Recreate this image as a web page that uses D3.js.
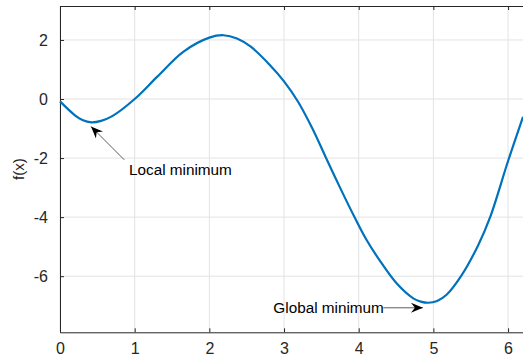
<!DOCTYPE html>
<html>
<head>
<meta charset="utf-8">
<script src="https://cdn.jsdelivr.net/npm/d3@7"></script>
<style>
  body { margin: 0; background: #fff; }
  svg { display: block; font-family: "Liberation Sans", Arial, Helvetica, sans-serif; }
</style>
</head>
<body>
<svg id="chart" width="523" height="360"></svg>
<script>
// values
const xs = [0, 0.2, 0.3, 0.42, 0.55, 0.7, 1.0, 1.3, 1.65, 2.0, 2.19, 2.37, 2.55, 2.8, 3.0, 3.19, 3.38, 3.56, 3.75, 3.94, 4.1, 4.29, 4.51, 4.73, 4.83, 4.93, 5.05, 5.18, 5.37, 5.6, 5.76, 6.0, 6.2];
const ys = [-0.08, -0.55, -0.71, -0.79, -0.74, -0.58, 0.0, 0.75, 1.6, 2.08, 2.16, 2.05, 1.78, 1.18, 0.6, -0.1, -1.0, -1.98, -3.0, -3.98, -4.75, -5.5, -6.25, -6.75, -6.86, -6.9, -6.84, -6.62, -6.0, -4.95, -4.0, -2.1, -0.6];
const xTicks = [0, 1, 2, 3, 4, 5, 6];
const yTicks = [-6, -4, -2, 0, 2];
const annotations = [
  { label: "Local minimum", text: [0.924, -2.40], tail: [0.861, -2.06], tip: [0.415, -0.93] },
  { label: "Global minimum", text: [2.857, -7.07], tail: [4.33, -7.07], tip: [4.86, -7.07] }
];

const svg = d3.select("#chart");
const margin = { top: 6, left: 60, bottom: 332.3, right: 523 };

const x = d3.scaleLinear().domain([0, 6.2]).range([margin.left, margin.right]);
const y = d3.scaleLinear().domain([-7.9, 3.15]).range([margin.bottom, margin.top]);

const axisColor = "#262626";

// grid
const grid = svg.append("g");
grid.selectAll(".vg").data(xTicks).join("line")
  .attr("x1", d => x(d)).attr("x2", d => x(d))
  .attr("y1", margin.top).attr("y2", margin.bottom)
  .attr("stroke", "#e3e3e3").attr("stroke-width", 1);
grid.selectAll(".hg").data(yTicks).join("line")
  .attr("y1", d => y(d)).attr("y2", d => y(d))
  .attr("x1", margin.left).attr("x2", margin.right)
  .attr("stroke", "#e3e3e3").attr("stroke-width", 1);

// axes (ticks inside, MATLAB style)
const fmt = d => d < 0 ? "-" + Math.abs(d) : String(d);
const xAxis = svg.append("g")
  .attr("transform", `translate(0,${margin.bottom})`)
  .call(d3.axisBottom(x).tickValues(xTicks).tickSizeInner(-4).tickSizeOuter(0).tickPadding(12).tickFormat(fmt));
const xTop = svg.append("g")
  .attr("transform", `translate(0,${margin.top})`)
  .call(d3.axisTop(x).tickValues(xTicks).tickSizeInner(-4).tickSizeOuter(0).tickFormat(""));
const yAxis = svg.append("g")
  .attr("transform", `translate(${margin.left},0)`)
  .call(d3.axisLeft(y).tickValues(yTicks).tickSizeInner(-4).tickSizeOuter(0).tickPadding(12).tickFormat(fmt));

[xAxis, xTop, yAxis].forEach(g => {
  g.select(".domain").attr("stroke", axisColor).attr("stroke-width", 1);
  g.selectAll(".tick line").attr("stroke", axisColor);
  g.selectAll(".tick text").attr("fill", axisColor).style("font-size", "16px");
});
xAxis.selectAll(".tick text").attr("dy", "0.6em");

// y label
svg.append("text")
  .attr("transform", `translate(24,${(margin.top + margin.bottom) / 2}) rotate(-90)`)
  .attr("text-anchor", "middle")
  .attr("fill", axisColor)
  .style("font-size", "15px")
  .text("f(x)");

// curve
const pts = xs.map((d, i) => [d, ys[i]]);
const line = d3.line().x(d => x(d[0])).y(d => y(d[1])).curve(d3.curveCatmullRom.alpha(0.5));
svg.append("path")
  .datum(pts)
  .attr("d", line)
  .attr("fill", "none")
  .attr("stroke", "#0072BD")
  .attr("stroke-width", 2.2);

// annotations
const ann = svg.append("g");
annotations.forEach(a => {
  const x0 = x(a.tail[0]), y0 = y(a.tail[1]);
  const x1 = x(a.tip[0]), y1 = y(a.tip[1]);
  const ang = Math.atan2(y1 - y0, x1 - x0) * 180 / Math.PI;
  ann.append("line")
    .attr("x1", x0).attr("y1", y0).attr("x2", x1).attr("y2", y1)
    .attr("stroke", "#333").attr("stroke-width", 0.8);
  ann.append("path")
    .attr("d", "M0,0L-12,-5L-8,0L-12,5Z")
    .attr("transform", `translate(${x1},${y1}) rotate(${ang})`)
    .attr("fill", "#000");
  ann.append("text")
    .attr("x", x(a.text[0])).attr("y", y(a.text[1]))
    .attr("dy", "0.35em")
    .attr("fill", "#000")
    .style("font-size", "15.3px")
    .text(a.label);
});
</script>
</body>
</html>
